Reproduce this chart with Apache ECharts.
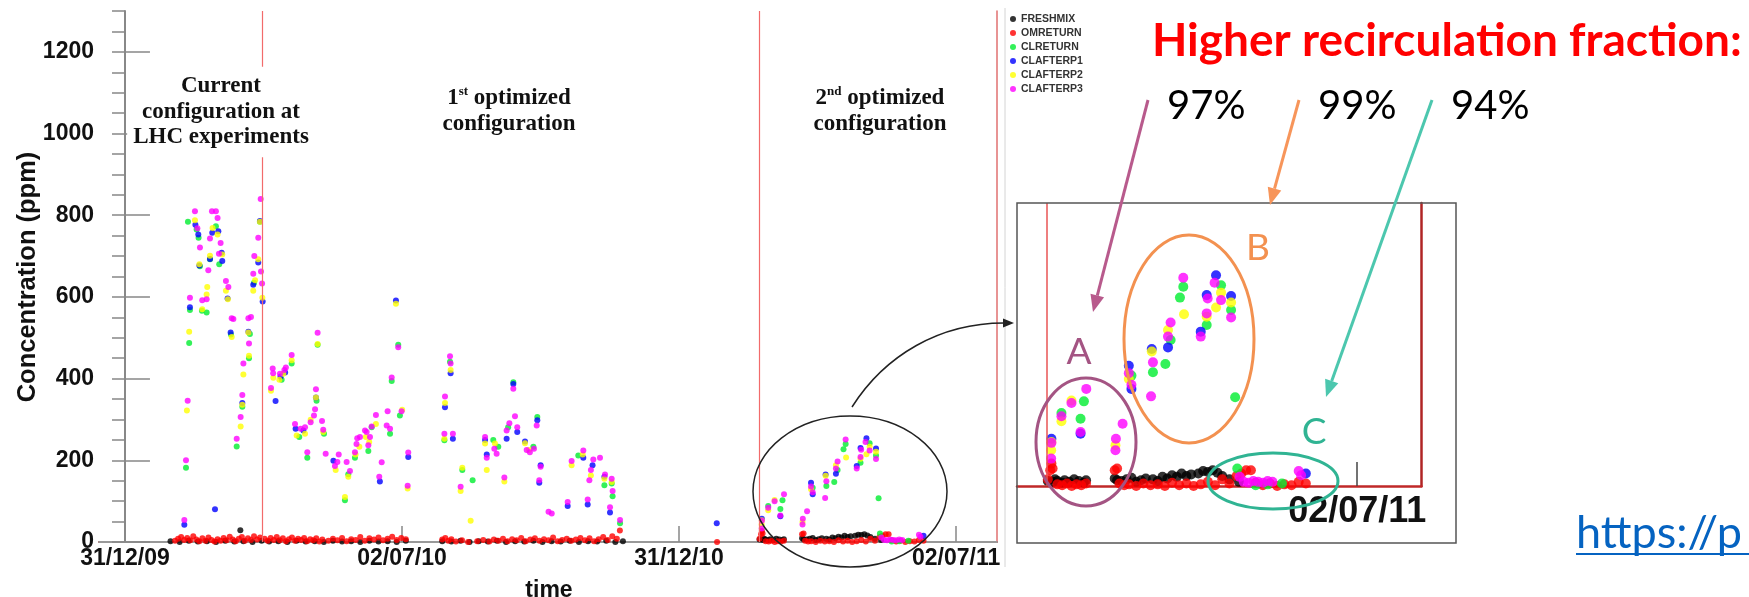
<!DOCTYPE html>
<html>
<head>
<meta charset="utf-8">
<script src="https://cdn.jsdelivr.net/npm/echarts@6/dist/echarts.min.js"></script>
<style>
  html, body { margin: 0; padding: 0; background: #fff; }
  #chart { width: 1749px; height: 597px; }
</style>
</head>
<body>
<div id="chart"></div>
<script>
// x values are days since 31/12/09
const xTickDays = [0, 182.5, 365, 547.5];
const xTickLabels = ['31/12/09', '02/07/10', '31/12/10', '02/07/11'];
const insetTickDays = [547.5];
const periodStarts = [90.2, 417.7];
const fractions = ['97%', '99%', '94%'];

const freshmix = [
  [30,2],[36,0],[42,3],[48,1],[54,2],[60,0],[66,3],[72,1],[76,29],[78,2],[84,0],[90,3],
  [95,1],[101,2],[107,0],[113,3],[119,1],[125,2],[131,0],[137,3],[143,1],[149,2],[155,0],
  [161,3],[167,1],[173,2],[179,0],[185,3],[209,2],[215,1],[221,3],[227,0],[233,2],[239,1],
  [245,3],[251,0],[257,2],[263,1],[269,3],[275,0],[281,2],[287,1],[293,3],[299,0],[305,2],
  [311,1],[317,3],[323,0],[328,2],
  [418,6],[420,5],[421,8],[422,6],[424,4],[425,7],[427,5],[429,8],[431,6],[433,4],[434,7],
  [446,9],[447,7],[449,6],[451,8],[453,10],[455,5],[457,7],[459,9],[462,8],[464,6],[466,11],
  [468,9],[470,13],[472,11],[474,15],[476,12],[478,14],[481,15],[483,18],[485,17],[487,19],
  [489,16],[491,12],[494,8],[498,5]
];
const omreturn = [
  [33,3],[35,8],[37,12],[39,5],[41,10],[43,4],[45,14],[47,6],[49,2],[51,9],[53,3],[55,11],
  [57,5],[59,1],[61,7],[63,3],[65,10],[67,4],[69,13],[71,6],[73,2],[75,8],[77,12],[79,3],
  [81,9],[83,5],[85,14],[87,6],[89,11],
  [92,8],[94,3],[96,10],[98,5],[100,12],[102,4],[104,9],[106,2],[108,7],[110,11],[112,3],
  [114,8],[116,5],[118,10],[120,2],[122,7],[124,4],[126,9],[128,1],[130,6],[134,3],[137,8],
  [140,4],[143,10],[146,2],[149,7],[152,5],[155,12],[158,3],[161,9],[164,6],[167,11],[170,4],
  [173,8],[176,13],[179,5],[182,10],[185,7],
  [209,6],[211,10],[213,3],[215,7],[218,1],[222,4],[226,0],[232,2],[236,5],[240,1],[243,6],
  [246,3],[249,8],[252,2],[255,7],[258,4],[261,10],[264,2],[267,6],[270,9],[273,3],[276,7],
  [279,4],[282,11],[285,2],[288,5],[291,8],[294,3],[297,6],[300,10],[303,4],[306,9],[309,2],
  [312,7],[315,12],[318,5],[321,14],[324,8],[326,28],[390,0],
  [418,8],[419,19],[419.5,27],[420,21],[422,2],[424,1],[426,3],[428,0],[430,2],[432,1],[434,3],
  [446,19],[447,21],[448,3],[450,1],[452,2],[455,0],[458,3],[461,1],[464,2],[467,0],[470,4],
  [473,1],[476,3],[479,0],[482,2],[485,5],[488,1],[491,8],[494,3],[497,12],[499,15],[501,19],
  [503,19],[505,4],[508,1],[511,3],[514,0],[517,2],[520,1],[523,5],[526,3]
];
const clreturn = [
  [40.2,182],[41.5,784],[42.3,487],[42.8,568],[47.2,765],[48.5,745],[49.4,675],[50.7,566],
  [53.8,562],[56.0,692],[59.9,773],[62.1,680],[69.8,508],[73.6,234],[77.3,331],[81.7,450],
  [82.3,509],[85.0,635],[88.9,784],
  [103.2,397],[109.8,437],[114.8,257],[120.1,206],[126.2,346],[126.9,483],[131.1,265],
  [144.9,102],[147.1,166],[151.5,206],[160.3,223],[162.5,281],[174.6,265],[175.7,394],
  [180.0,483],[181.1,310],
  [210.4,249],[214.1,441],[222.2,176],[229.0,151],[242.6,250],[245.9,233],[252.4,281],
  [255.8,391],[269.0,233],[271.6,306],[298.6,212],[315.8,139],[320.6,143],[321.2,112],[326.1,46],
  [423.7,88],[431.7,81],[433.1,102],[453.0,133],[462.0,137],[467.2,147],[469.4,176],[473.3,227],
  [474.7,240],[484.5,194],[490.5,242],[494.7,212],[496.4,107],[497.3,21],[505.0,1],[510.0,2],[516.0,3]
];
const clafterp1 = [
  [39.1,42],[42.8,575],[46.4,777],[48.3,753],[49.0,677],[56.0,693],[57.5,757],[59.3,80],
  [61.5,761],[63.7,708],[64.1,688],[67.6,596],[69.6,513],[77.3,340],[81.3,515],[84.5,630],
  [87.8,684],[88.9,786],[90.7,589],
  [99.2,345],[102.5,405],[105.5,415],[112.4,277],[117.5,273],[125.8,354],[137.3,199],
  [167.9,148],[178.5,591],[186.6,208],
  [210.8,330],[214.5,413],[216.0,253],[237.2,250],[238.3,214],[251.4,253],[255.8,387],
  [258.4,269],[263.5,246],[271.6,298],[272.9,145],[273.8,188],[291.6,88],[301.9,206],
  [304.8,92],[308.0,188],[315.8,160],[319.5,72],[389.8,46],
  [419.5,57],[431.7,63],[451.9,145],[453.0,117],[461.5,165],[468.3,167],[482.0,186],
  [484.5,230],[488.4,254],[494.7,229],[526.0,15]
];
const clafterp2 = [
  [40.8,322],[42.3,515],[46.1,788],[49.0,680],[50.9,570],[53.8,606],[54.2,624],[56.0,701],
  [57.7,769],[61.0,753],[64.1,704],[66.5,615],[67.8,594],[70.3,502],[76.2,283],[77.3,336],
  [78.0,410],[81.3,513],[81.7,456],[84.5,615],[85.7,641],[87.8,692],[88.9,784],[90.5,598],
  [96.2,370],[97.7,402],[101.7,397],[104.3,412],[109.8,445],[113.1,261],[118.6,265],
  [122.3,299],[125.8,354],[126.9,485],[130.6,269],[138.8,176],[144.9,110],[147.1,160],
  [151.9,214],[154.4,233],[158.7,257],[160.9,245],[165.3,289],[178.5,583],[182.6,324],[186.2,131],
  [210.4,253],[210.8,340],[214.5,421],[221.1,125],[222.2,182],[227.7,52],[237.2,241],
  [238.3,176],[243.7,241],[249.9,148],[263.5,242],[266.1,225],[294.2,188],[301.5,214],
  [306.9,163],[315.8,155],[320.6,147],
  [419.4,43],[419.5,53],[423.7,78],[427.9,103],[446.3,49],[451.9,129],[461.5,162],[468.3,188],
  [475.0,207],[484.5,204],[488.4,215],[490.5,233],[494.7,221]
];
const clafterp3 = [
  [39.1,54],[40.2,200],[41.3,346],[42.8,598],[46.1,810],[47.7,768],[49.4,721],[50.9,592],
  [53.8,594],[54.9,665],[56.0,743],[57.3,810],[59.9,810],[61.0,793],[61.9,706],[63.0,732],
  [66.5,639],[68.1,624],[70.3,548],[71.4,546],[73.6,253],[76.2,306],[77.3,360],[78.0,437],
  [81.3,548],[81.7,486],[83.0,551],[84.5,657],[85.2,700],[87.8,745],[89.4,840],[89.6,662],[90.3,633],
  [96.2,377],[97.3,425],[97.6,413],[102.1,412],[105.0,421],[106.0,427],[109.8,458],[112.0,289],
  [115.7,277],[118.6,281],[120.1,220],[122.3,293],[124.5,310],[125.2,325],[125.8,374],[126.9,512],
  [129.8,296],[130.6,275],[132.2,216],[138.3,186],[139.9,196],[140.8,214],[146.0,196],[148.2,174],
  [151.5,220],[152.5,240],[153.0,254],[154.8,257],[158.1,273],[159.2,269],[160.3,237],[161.4,257],
  [162.5,283],[165.3,311],[167.5,160],[169.1,195],[172.4,285],[173.0,320],[174.6,277],[175.7,403],
  [180.0,477],[182.2,320],[186.2,138],[186.6,219],
  [210.4,265],[210.8,356],[214.1,455],[214.5,437],[216.0,265],[221.1,135],[237.2,257],[238.3,206],
  [243.3,228],[244.8,216],[249.9,158],[251.4,273],[253.2,291],[255.8,375],[256.9,308],[258.4,281],
  [264.6,225],[266.7,220],[269.4,228],[271.2,285],[272.9,151],[273.8,184],[279.0,74],[281.1,70],
  [291.6,98],[294.2,198],[301.9,224],[304.8,104],[305.9,151],[306.9,176],[308.5,202],[312.9,206],
  [316.2,165],[319.5,85],[320.6,155],[321.2,125],[326.1,54],
  [419.4,33],[419.5,52],[423.7,84],[427.9,100],[431.7,65],[434.1,117],[446.3,43],[446.5,57],
  [449.3,75],[451.9,136],[453.0,122],[461.2,108],[462.0,149],[468.3,180],[469.4,197],[474.7,251],
  [482.0,180],[484.5,208],[484.9,226],[487.8,245],[490.5,224],[494.7,203],[498.3,11],[500.0,5],
  [502.0,4],[504.0,6],[506.0,5],[508.0,4],[510.0,6],[512.0,5],[523.0,18],[524.0,13]
];

const seriesDefs = [
  { name: 'FRESHMIX', color: '#000000', data: freshmix },
  { name: 'OMRETURN', color: '#ff0000', data: omreturn },
  { name: 'CLRETURN', color: '#00ee30', data: clreturn },
  { name: 'CLAFTERP1', color: '#0000ff', data: clafterp1 },
  { name: 'CLAFTERP2', color: '#ffff00', data: clafterp2 },
  { name: 'CLAFTERP3', color: '#ff00ff', data: clafterp3 }
];

const SANS = '"Liberation Sans", Arial, sans-serif';
const SERIF = '"Liberation Serif", "Times New Roman", serif';
const SLIDE = 'Lato, "Noto Sans", sans-serif';

const tickName = v => xTickLabels[xTickDays.indexOf(v)];

// straight arrow = shaft + filled head
function arrow(x1, y1, x2, y2, color, width) {
  const len = Math.hypot(x2 - x1, y2 - y1);
  const ux = (x2 - x1) / len, uy = (y2 - y1) / len;
  const h = 17, hw = 7;
  const bx = x2 - ux * h, by = y2 - uy * h;
  return [
    { type: 'line', z: 100, shape: { x1: x1, y1: y1, x2: bx, y2: by },
      style: { stroke: color, lineWidth: width } },
    { type: 'polygon', z: 100,
      shape: { points: [[x2, y2], [bx - uy * hw, by + ux * hw], [bx + uy * hw, by - ux * hw]] },
      style: { fill: color } }
  ];
}

function centered(text, x, y, font, fill, extra) {
  return { type: 'text', z: 100,
    style: Object.assign({ text: text, x: x, y: y, font: font, fill: fill,
      align: 'center', verticalAlign: 'middle', textAlign: 'center', textVerticalAlign: 'middle' }, extra || {}) };
}

const series = [];
seriesDefs.forEach((s, i) => {
  const main = {
    type: 'scatter', name: s.name, data: s.data,
    xAxisIndex: 0, yAxisIndex: 0,
    symbolSize: 6, itemStyle: { color: s.color }
  };
  const inset = {
    type: 'scatter', name: s.name, data: s.data,
    xAxisIndex: 2, yAxisIndex: 3,
    symbolSize: 10, itemStyle: { color: s.color }
  };
  if (i === 0) {
    main.markLine = {
      silent: true, symbol: ['none', 'none'], label: { show: false },
      lineStyle: { color: '#f26b6b', width: 1.2, type: 'solid' },
      data: periodStarts.map(d => ({ xAxis: d }))
    };
    inset.markLine = {
      silent: true, symbol: ['none', 'none'], label: { show: false },
      lineStyle: { color: '#e85555', width: 1.5, type: 'solid' },
      data: [{ xAxis: periodStarts[1] }]
    };
  }
  series.push(main, inset);
});

const labelBold = (size) => ({ fontFamily: SANS, fontWeight: 'bold', fontSize: size, color: '#111' });
const supRich = {
  b: { font: 'bold 23px ' + SERIF, fill: '#111', lineHeight: 26 },
  s: { font: 'bold 13px ' + SERIF, fill: '#111', lineHeight: 16, verticalAlign: 'top' }
};

const option = {
  animation: false,
  backgroundColor: '#fff',
  grid: [
    { left: 99, top: 11, width: 898, height: 531 },
    { left: 1017, top: 203, width: 404.5, height: 283 }
  ],
  xAxis: [
    {
      gridIndex: 0, type: 'value', min: -17.1, max: 574.4, position: 'bottom',
      axisLine: { lineStyle: { color: '#ee3333', width: 2 } },
      axisTick: { inside: true, length: 16, customValues: xTickDays, lineStyle: { color: '#888', width: 1.5 } },
      axisLabel: Object.assign({ customValues: xTickDays, formatter: tickName, margin: 5 }, labelBold(23)),
      splitLine: { show: false }
    },
    {
      gridIndex: 0, type: 'value', min: -17.1, max: 574.4, position: 'top',
      axisLine: { lineStyle: { color: '#999', width: 2 } },
      axisTick: { show: false }, axisLabel: { show: false }, splitLine: { show: false }
    },
    {
      gridIndex: 1, type: 'value', min: 405.1, max: 574.4, position: 'bottom',
      axisLine: { lineStyle: { color: '#c02828', width: 2.5 } },
      axisTick: { inside: true, length: 24, customValues: insetTickDays, lineStyle: { color: '#444', width: 1.5 } },
      axisLabel: Object.assign({ customValues: insetTickDays, formatter: tickName, margin: 8 }, labelBold(36)),
      splitLine: { show: false }
    }
  ],
  yAxis: [
    {
      gridIndex: 0, type: 'value', min: 0, max: 1300, interval: 200,
      axisLine: { show: true, lineStyle: { color: '#888', width: 2 } },
      axisTick: { show: true, inside: true, length: 25, lineStyle: { color: '#888', width: 1.5 } },
      axisLabel: Object.assign({ margin: 5, showMaxLabel: false, formatter: v => String(v) }, labelBold(23)),
      splitLine: { show: false }
    },
    {
      gridIndex: 0, type: 'value', min: 0, max: 1300, interval: 50,
      axisLine: { show: false },
      axisTick: { show: true, inside: true, length: 13, lineStyle: { color: '#888', width: 1.5 } },
      axisLabel: { show: false }, splitLine: { show: false }
    },
    {
      gridIndex: 0, type: 'value', min: 0, max: 1300, position: 'right',
      axisLine: { show: true, lineStyle: { color: '#e07070', width: 1.5 } },
      axisTick: { show: false }, axisLabel: { show: false }, splitLine: { show: false }
    },
    {
      gridIndex: 1, type: 'value', min: 0, max: 341, show: false
    },
    {
      gridIndex: 1, type: 'value', min: 0, max: 341, position: 'right',
      axisLine: { show: true, lineStyle: { color: '#b02525', width: 2.5 } },
      axisTick: { show: false }, axisLabel: { show: false }, splitLine: { show: false }
    }
  ],
  legend: {
    data: seriesDefs.map(s => s.name),
    orient: 'vertical', left: 1010, top: 13, padding: 0,
    icon: 'circle', itemWidth: 6, itemHeight: 6, itemGap: 2, itemTextGap: 10,
    selectedMode: false,
    textStyle: { fontFamily: SANS, fontWeight: 'bold', fontSize: 10.5, color: '#333', lineHeight: 12 }
  },
  series: series,
  graphic: [
    // axis titles
    { type: 'text', z: 100, x: 28, y: 277, rotation: Math.PI / 2,
      style: { text: 'Concentration (ppm)', font: 'bold 25.5px ' + SANS, fill: '#111',
        align: 'center', verticalAlign: 'middle', textAlign: 'center', textVerticalAlign: 'middle' } },
    centered('time', 549, 591, 'bold 23px ' + SANS, '#111'),
    // configuration labels
    centered('Current\nconfiguration at\nLHC experiments', 221, 112, 'bold 23px ' + SERIF, '#111',
      { lineHeight: 25.5, backgroundColor: '#fff', padding: [7, 6] }),
    centered('{b|1}{s|st}{b| optimized}\n{b|configuration}', 509, 111, null, '#111', { rich: supRich }),
    centered('{b|2}{s|nd}{b| optimized}\n{b|configuration}', 880, 111, null, '#111', { rich: supRich }),
    // border of the pasted plot
    { type: 'line', z: 90, shape: { x1: 1005, y1: 8, x2: 1005, y2: 567 },
      style: { stroke: '#d4d4d4', lineWidth: 1 } },
    // zoom circle and curved pointer
    { type: 'ellipse', z: 100, shape: { cx: 850, cy: 491.5, rx: 97, ry: 75.5 },
      style: { fill: 'none', stroke: '#222', lineWidth: 1.5 } },
    { type: 'bezierCurve', z: 100,
      shape: { x1: 852, y1: 407, cpx1: 885, cpy1: 355, cpx2: 940, cpy2: 323, x2: 1004, y2: 323 },
      style: { fill: 'none', stroke: '#222', lineWidth: 1.5 } },
    { type: 'polygon', z: 100, shape: { points: [[1014, 323], [1003, 318.5], [1003, 327.5]] },
      style: { fill: '#222' } },
    // inset frame
    { type: 'rect', z: 100, shape: { x: 1017, y: 203, width: 439, height: 340 },
      style: { fill: 'none', stroke: '#555', lineWidth: 1.5 } },
    // groups A, B, C
    { type: 'ellipse', z: 100, shape: { cx: 1086, cy: 442, rx: 50, ry: 64 },
      style: { fill: 'none', stroke: '#a45483', lineWidth: 3 } },
    { type: 'ellipse', z: 100, shape: { cx: 1189, cy: 339, rx: 65, ry: 104 },
      style: { fill: 'none', stroke: '#f39150', lineWidth: 3 } },
    { type: 'ellipse', z: 100, shape: { cx: 1273, cy: 481, rx: 65, ry: 28 },
      style: { fill: 'none', stroke: '#30b493', lineWidth: 3 } },
    centered('A', 1079, 352, '37px ' + SLIDE, '#a45483'),
    centered('B', 1258, 248, '37px ' + SLIDE, '#f39150'),
    centered('C', 1314, 432, '37px ' + SLIDE, '#30b493'),
    ...arrow(1148, 100, 1093, 312, '#b85a8c', 3),
    ...arrow(1299, 100, 1270, 205, '#f7955a', 3),
    ...arrow(1432, 100, 1326, 397, '#4cc7ae', 3),
    // slide texts
    { type: 'text', z: 100,
      style: { text: 'Higher recirculation fraction:', x: 1152, y: 41, font: 'bold 46px ' + SLIDE, fill: '#ff0000',
        align: 'left', verticalAlign: 'middle', textAlign: 'left', textVerticalAlign: 'middle' } },
    ...fractions.map((t, i) => ({ type: 'text', z: 100,
      style: { text: t, x: [1167, 1318, 1451][i], y: 106, font: '40px ' + SLIDE, fill: '#000',
        align: 'left', verticalAlign: 'middle', textAlign: 'left', textVerticalAlign: 'middle' } })),
    { type: 'text', z: 100,
      style: { text: 'https://p', x: 1576, y: 533, font: '45px ' + SLIDE, fill: '#0563c1',
        align: 'left', verticalAlign: 'middle', textAlign: 'left', textVerticalAlign: 'middle' } },
    { type: 'line', z: 100, shape: { x1: 1576, y1: 554, x2: 1749, y2: 554 },
      style: { stroke: '#0563c1', lineWidth: 2 } }
  ]
};

const chart = echarts.init(document.getElementById('chart'), null, { renderer: 'canvas' });
chart.setOption(option);
</script>
</body>
</html>
